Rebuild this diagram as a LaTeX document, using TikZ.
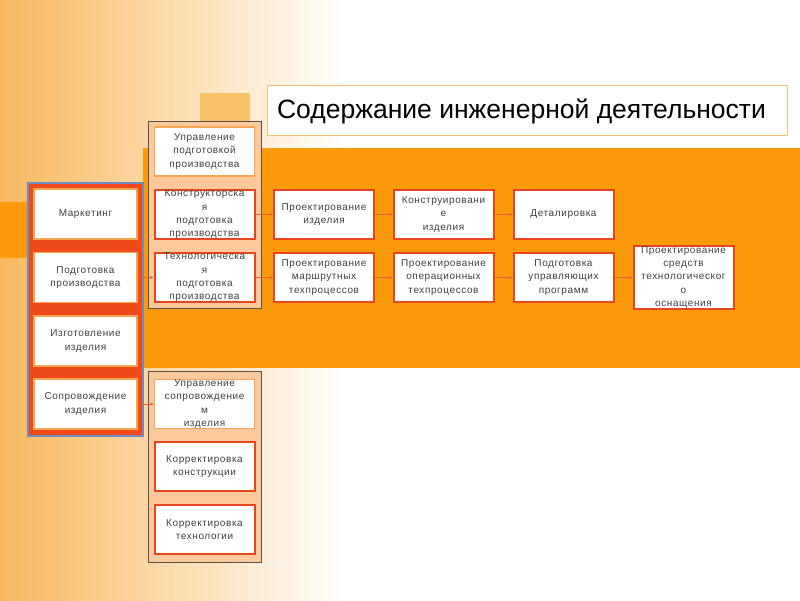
\documentclass[tikz,border=0pt]{standalone}
\usepackage{fontspec}
\setmainfont{Liberation Sans}
\usetikzlibrary{arrows.meta}
\definecolor{bgorange}{HTML}{FD9A0C}
\definecolor{gradorange}{HTML}{F8B85E}
\definecolor{sqorange}{HTML}{F9C266}
\definecolor{colfill}{HTML}{FBC99C}
\definecolor{colline}{HTML}{5B5048}
\definecolor{bluel}{HTML}{6C8DC2}
\definecolor{redfill}{HTML}{EE4A1A}
\definecolor{redline}{HTML}{E8461E}
\definecolor{lightline}{HTML}{F6A550}
\definecolor{titleline}{HTML}{F3BE6E}
\definecolor{txtgray}{HTML}{404040}
\definecolor{arrowc}{HTML}{E8602E}
\tikzset{
  lbl/.style={font=\fontsize{10}{13.3}\selectfont\addfontfeature{LetterSpace=6}, text=txtgray, align=center, inner sep=0pt},
  lbox/.style={lbl, fill=white, draw=lightline, line width=1.5pt, minimum width=103pt, minimum height=50pt},
  rbox/.style={lbl, fill=white, draw=redline, line width=2pt, minimum width=100pt, minimum height=49pt},
  obox/.style={lbl, fill=white, draw=lightline, line width=1.5pt, minimum width=100pt, minimum height=49pt},
  conn/.style={draw=arrowc, line width=0.6pt, -{Stealth[length=3.5pt,width=3pt]}}
}
\begin{document}
\begin{tikzpicture}[x=1pt,y=-1pt]
\useasboundingbox (0,0) rectangle (800,600);
% background
\fill[white] (0,0) rectangle (800,600);
\shade[left color=gradorange, right color=white] (0,0) rectangle (345,600);
\fill[bgorange] (143,148) rectangle (800,368);
\fill[bgorange] (0,202) rectangle (143,258);
\fill[sqorange] (200,93) rectangle (250,121);
% title
\draw[titleline, fill=white, line width=1pt] (267,85) rectangle (787,135);
\node[font=\fontsize{26.5}{30}\selectfont, text=black, inner sep=0pt] (title) at (521.5,111) {Содержание инженерной деятельности};
% containers
\draw[bluel, fill=redfill, line width=1.5pt] (28,183) rectangle (143,436);
\draw[colline, fill=colfill, line width=0.6pt] (148,121) rectangle (261,308);
\draw[colline, fill=colfill, line width=0.6pt] (148,371) rectangle (261,562);
% left column
\node[lbox] (lb1) at (85.5,214) {Маркетинг};
\node[lbox] (lb2) at (85.5,277.5) {Подготовка\\производства};
\node[lbox] (lb3) at (85.5,341) {Изготовление\\изделия};
\node[lbox] (lb4) at (85.5,404) {Сопровождение\\изделия};
% middle column
\node[obox] (u1) at (204.5,151.5) {Управление\\подготовкой\\производства};
\node[rbox] (t1) at (204.5,214.5) {Конструкторска\\я\\подготовка\\производства};
\node[rbox] (t2) at (204.5,277.5) {Технологическа\\я\\подготовка\\производства};
\node[obox] (u2) at (204.5,404) {Управление\\сопровождение\\м\\изделия};
\node[rbox] (k1) at (204.5,466.5) {Корректировка\\конструкции};
\node[rbox] (k2) at (204.5,529.5) {Корректировка\\технологии};
% rows
\node[rbox] (r11) at (324,214.5) {Проектирование\\изделия};
\node[rbox] (r12) at (443.5,214.5) {Конструировани\\е\\изделия};
\node[rbox] (r13) at (563.5,214.5) {Деталировка};
\node[rbox] (r21) at (324,277.5) {Проектирование\\маршрутных\\техпроцессов};
\node[rbox] (r22) at (443.5,277.5) {Проектирование\\операционных\\техпроцессов};
\node[rbox] (r23) at (563.5,277.5) {Подготовка\\управляющих\\программ};
\node[rbox] (r24) at (683.5,277.5) {Проектирование\\средств\\технологическог\\о\\оснащения};
% connectors
\draw[conn] (lb2) -- (t2);
\draw[conn] (lb4) -- (u2);
\draw[conn] (t1) -- (r11);
\draw[conn] (r11) -- (r12);
\draw[conn] (r12) -- (r13);
\draw[conn] (t2) -- (r21);
\draw[conn] (r21) -- (r22);
\draw[conn] (r22) -- (r23);
\draw[conn] (r23) -- (r24);
\end{tikzpicture}
\end{document}
